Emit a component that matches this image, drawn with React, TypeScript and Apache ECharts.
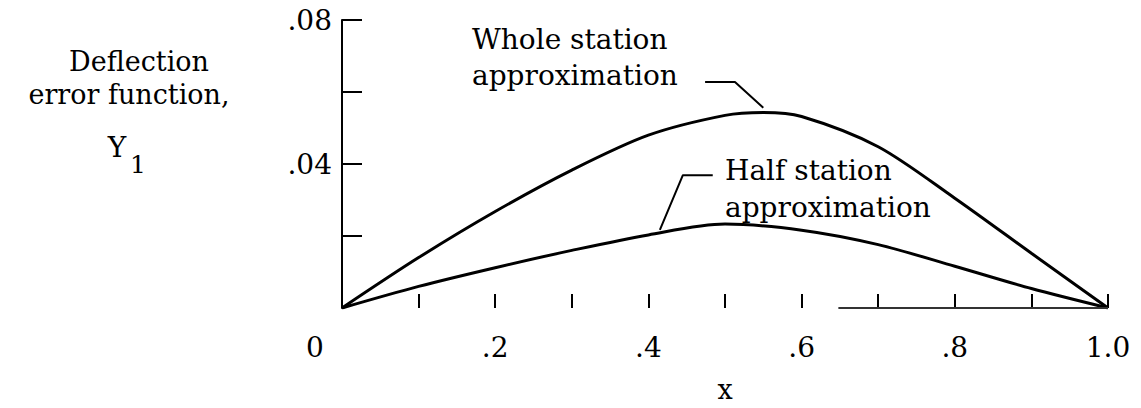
import React, { useEffect, useRef } from "react";
import * as echarts from "echarts";

const FONT = '"DejaVu Serif", serif';

// Whole station approximation
const wholeX = [0, 0.1, 0.2, 0.3, 0.4, 0.5, 0.55, 0.6, 0.7, 0.8, 0.9, 1.0];
const wholeY = [0, 0.014, 0.0268, 0.0383, 0.048, 0.0535, 0.0543, 0.0532, 0.0448, 0.0305, 0.0152, 0];
// Half station approximation
const halfX = [0, 0.1, 0.2, 0.3, 0.4, 0.5, 0.6, 0.7, 0.8, 0.9, 1.0];
const halfY = [0, 0.006, 0.0112, 0.016, 0.0203, 0.0233, 0.0216, 0.0176, 0.0116, 0.0054, 0];

// leader lines (data coordinates)
const wholeLeader = [[0.474, 0.0628], [0.513, 0.0628], [0.55, 0.0556]];
const halfLeader = [[0.415, 0.0217], [0.445, 0.0369], [0.484, 0.0369]];
// partial drawn x axis line
const xAxisSegment = [[0.648, 0], [1.0, 0]];

const yTickValues = [0.02, 0.04, 0.06, 0.08];
const yLabelValues = [0.04, 0.08];

const fmtX = (v: number) => {
  const t = Math.round(v * 10);
  if (t % 2 !== 0) return "";
  if (t === 0) return "{z|0}";
  if (t === 10) return "1.0";
  return "." + t;
};

export default function App() {
  const ref = useRef<HTMLDivElement>(null);
  useEffect(() => {
    if (!ref.current) return;
    const chart = echarts.init(ref.current, null, { renderer: "svg" });
    const pair = (xs: number[], ys: number[]) => xs.map((x, i) => [x, ys[i]]);
    chart.setOption({
      animation: false,
      backgroundColor: "#fff",
      grid: { left: 342, right: 33, top: 20, bottom: 100, outerBoundsMode: "none" },
      xAxis: {
        type: "value",
        min: 0,
        max: 1,
        interval: 0.1,
        name: "x",
        nameLocation: "middle",
        nameGap: 68,
        nameTextStyle: { color: "#000", fontFamily: FONT, fontSize: 27 },
        axisLine: { show: false },
        axisTick: { show: true, inside: true, length: 14, lineStyle: { color: "#000", width: 2 } },
        splitLine: { show: false },
        axisLabel: {
          color: "#000",
          fontFamily: FONT,
          fontSize: 28,
          margin: 25,
          formatter: fmtX,
          rich: { z: { color: "#000", fontFamily: FONT, fontSize: 28, padding: [0, 54, 0, 0] } },
        },
      },
      yAxis: {
        type: "value",
        min: 0,
        max: 0.08,
        interval: 0.02,
        axisLine: { show: true, onZero: false, lineStyle: { color: "#000", width: 2 } },
        axisTick: {
          show: true,
          inside: true,
          length: 20,
          customValues: yTickValues,
          lineStyle: { color: "#000", width: 2 },
        },
        splitLine: { show: false },
        axisLabel: {
          color: "#000",
          fontFamily: FONT,
          fontSize: 28,
          margin: 10,
          customValues: yLabelValues,
          formatter: (v: number) => (yLabelValues.some((t) => Math.abs(t - v) < 1e-9) ? "." + (v * 100).toFixed(0).padStart(2, "0") : ""),
        },
      },
      series: [
        {
          name: "Whole station approximation",
          type: "line",
          data: pair(wholeX, wholeY),
          smooth: 0.3,
          showSymbol: false,
          lineStyle: { color: "#000", width: 3 },
        },
        {
          name: "Half station approximation",
          type: "line",
          data: pair(halfX, halfY),
          smooth: 0.3,
          showSymbol: false,
          lineStyle: { color: "#000", width: 3 },
        },
        {
          type: "line",
          data: wholeLeader,
          showSymbol: false,
          lineStyle: { color: "#000", width: 2 },
        },
        {
          type: "line",
          data: halfLeader,
          showSymbol: false,
          lineStyle: { color: "#000", width: 2 },
        },
        {
          type: "line",
          data: xAxisSegment,
          showSymbol: false,
          lineStyle: { color: "#333", width: 2 },
        },
      ],
      graphic: [
        { type: "text", x: 139, y: 61, style: { text: "Deflection", font: `27px ${FONT}`, fill: "#000", textAlign: "center", textVerticalAlign: "middle" } },
        { type: "text", x: 129, y: 94, style: { text: "error function,", font: `27px ${FONT}`, fill: "#000", textAlign: "center", textVerticalAlign: "middle" } },
        { type: "text", x: 117, y: 147, style: { text: "Y", font: `28px ${FONT}`, fill: "#000", textAlign: "center", textVerticalAlign: "middle" } },
        { type: "text", x: 138, y: 164, style: { text: "1", font: `25px ${FONT}`, fill: "#000", textAlign: "center", textVerticalAlign: "middle" } },
        { type: "text", x: 472, y: 57, style: { text: "Whole station\napproximation", font: `28px ${FONT}`, lineHeight: 36, fill: "#000", textAlign: "left", textVerticalAlign: "middle" } },
        { type: "text", x: 725, y: 189, style: { text: "Half station\napproximation", font: `28px ${FONT}`, lineHeight: 37, fill: "#000", textAlign: "left", textVerticalAlign: "middle" } },
      ],
    });
    return () => chart.dispose();
  }, []);
  return (
    <div
      ref={ref}
      style={{ position: "absolute", left: 0, top: 0, width: 1141, height: 408, background: "#fff" }}
    />
  );
}
